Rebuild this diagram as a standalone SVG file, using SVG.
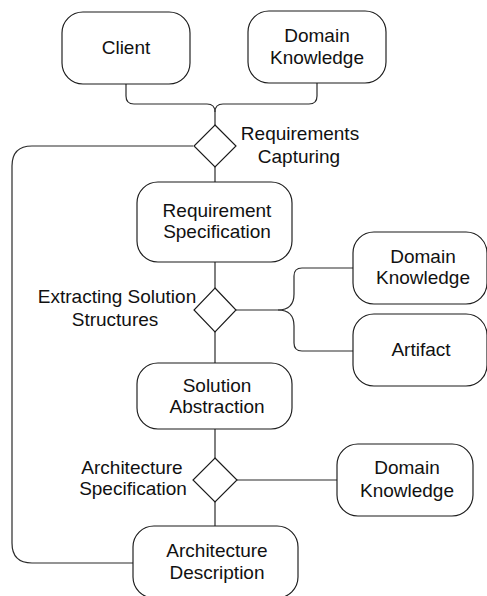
<svg xmlns="http://www.w3.org/2000/svg" width="487" height="596" viewBox="0 0 487 596">
  <style>
    .box { fill: #ffffff; stroke: #1a1a1a; stroke-width: 1.15; }
    .dia { fill: #ffffff; stroke: #1a1a1a; stroke-width: 1.15; }
    .wire { fill: none; stroke: #2a2a2a; stroke-width: 1.2; }
    text { font-family: "Liberation Sans", Arial, sans-serif; font-size: 19px; fill: #111111; text-anchor: middle; }
  </style>
  <rect width="487" height="596" fill="#ffffff"/>

  <!-- connectors -->
  <g id="connectors">
    <path class="wire" d="M126,84 V96 Q126,104 134,104 H207 Q215,104 215,112 V125"/>
    <path class="wire" d="M317,83 V96 Q317,104 309,104 H223 Q215,104 215,112"/>
    <path class="wire" d="M215,167 V182"/>
    <path class="wire" d="M193,146 H32 Q12,146 12,166 V543 Q12,563 32,563 H133"/>
    <path class="wire" d="M215,262 V288"/>
    <path class="wire" d="M215,332 V363"/>
    <path class="wire" d="M236,310 H278 Q294,310 294,294 V276 Q294,268 302,268 H353"/>
    <path class="wire" d="M278,310 Q294,310 294,326 V343 Q294,351 302,351 H353"/>
    <path class="wire" d="M215,429 V458"/>
    <path class="wire" d="M237,480 H337"/>
    <path class="wire" d="M215,502 V526"/>
  </g>

  <!-- activities and inputs -->
  <g id="client">
    <rect class="box" x="62" y="12" width="128" height="72" rx="21"/>
    <text x="126" y="54">Client</text>
  </g>
  <g id="domain-knowledge-1">
    <rect class="box" x="248" y="11" width="138" height="72" rx="21"/>
    <text x="317" y="42">Domain</text>
    <text x="317" y="64">Knowledge</text>
  </g>
  <g id="requirements-capturing">
    <polygon class="dia" points="215,125 236,146 215,167 194,146"/>
    <text x="300" y="140">Requirements</text>
    <text x="299" y="163">Capturing</text>
  </g>
  <g id="requirement-specification">
    <rect class="box" x="137" y="182" width="155" height="80" rx="21"/>
    <text x="217" y="217">Requirement</text>
    <text x="217" y="238">Specification</text>
  </g>
  <g id="extracting-solution-structures">
    <polygon class="dia" points="215,288 236,310 215,332 194,310"/>
    <text x="117" y="303">Extracting Solution</text>
    <text x="115" y="326">Structures</text>
  </g>
  <g id="domain-knowledge-2">
    <rect class="box" x="353" y="232" width="134" height="72" rx="21"/>
    <text x="423" y="263">Domain</text>
    <text x="423" y="284">Knowledge</text>
  </g>
  <g id="artifact">
    <rect class="box" x="353" y="314" width="134" height="72" rx="21"/>
    <text x="421" y="356">Artifact</text>
  </g>
  <g id="solution-abstraction">
    <rect class="box" x="137" y="363" width="155" height="66" rx="21"/>
    <text x="217" y="392">Solution</text>
    <text x="217" y="413">Abstraction</text>
  </g>
  <g id="architecture-specification">
    <polygon class="dia" points="215,458 237,480 215,502 193,480"/>
    <text x="132" y="474">Architecture</text>
    <text x="133" y="495">Specification</text>
  </g>
  <g id="domain-knowledge-3">
    <rect class="box" x="337" y="444" width="136" height="72" rx="21"/>
    <text x="407" y="474">Domain</text>
    <text x="407" y="497">Knowledge</text>
  </g>
  <g id="architecture-description">
    <rect class="box" x="133" y="526" width="165" height="72" rx="21"/>
    <text x="217" y="557">Architecture</text>
    <text x="217" y="579">Description</text>
  </g>
</svg>
